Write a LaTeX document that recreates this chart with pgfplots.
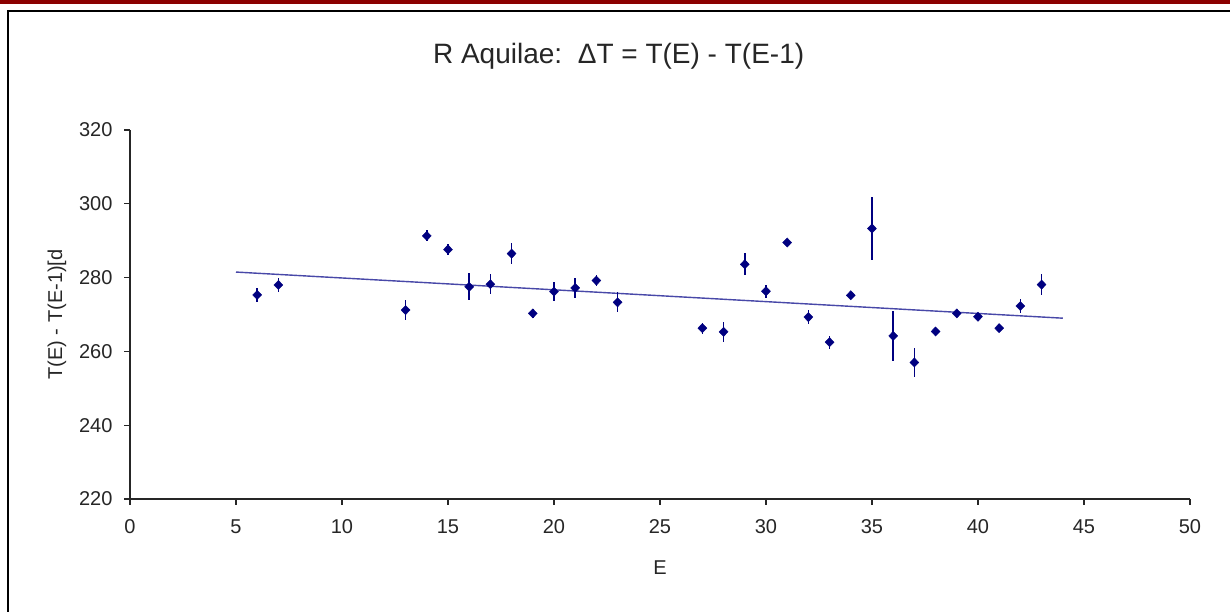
\documentclass[border=0pt]{standalone}
\usepackage{fontspec}
\setmainfont{Liberation Sans}
\usepackage{pgfplots}
\pgfplotsset{compat=1.18}
\definecolor{navy}{HTML}{000080}
\definecolor{trend}{HTML}{4848A8}
\definecolor{topred}{HTML}{8B0000}
\begin{document}
\begin{tikzpicture}[x=1pt,y=1pt]
\path[use as bounding box] (0,0) rectangle (1230,612);
\fill[white] (0,0) rectangle (1230,612);
\fill[topred] (0,608) rectangle (1230,612);
\draw[black,line width=1.6pt] (8,-2) -- (8,601) -- (1232,601);
\begin{axis}[
  at={(130pt,113pt)}, anchor=origin,
  scale only axis, width=1060pt, height=369pt,
  xmin=0, xmax=50, ymin=220, ymax=320,
  xtick={0,5,...,50}, ytick={220,240,...,320},
  axis x line*=bottom, axis y line*=left,
  axis line style={black!85, line width=1.3pt},
  tick style={black!85, line width=1.3pt},
  tick align=outside, major tick length=6pt,
  /pgf/number format/assume math mode=true,
  tick label style={font=\fontsize{20}{24}\selectfont, text=black!85},
  xticklabel style={yshift=-11pt},
  yticklabel style={xshift=-8pt},
  title={R Aquilae:\ \ ΔT = T(E) - T(E-1)},
  title style={at={(axis description cs:0.461,1.183)}, anchor=center, font=\fontsize{28}{33}\selectfont, text=black!85},
  xlabel={E},
  xlabel style={at={(axis description cs:0.5,-0.187)}, anchor=center, font=\fontsize{20}{24}\selectfont, text=black!85},
  ylabel={T(E) - T(E-1)[d},
  ylabel style={at={(axis description cs:-0.069,0.5)}, anchor=center, font=\fontsize{20}{24}\selectfont, text=black!85},
  clip=false,
]
\addplot[trend, line width=1.4pt, no marks] coordinates {(5,281.5) (44,269.0)};
\addplot[only marks, mark=diamond*, mark size=4.6pt, color=navy, mark options={fill=navy, draw=navy, xscale=1.3},
  error bars/.cd, y dir=both, y explicit, error mark=none,
  error bar style={navy, line width=1.5pt}]
  table[x=x, y=y, y error=e] {
x y e
6 275.3 1.8
7 278.0 1.8
13 271.2 2.8
14 291.3 1.5
15 287.6 1.5
16 277.5 3.7
17 278.2 2.7
18 286.5 2.8
19 270.3 1.3
20 276.2 2.5
21 277.2 2.7
22 279.2 1.5
23 273.3 2.7
27 266.3 1.5
28 265.3 2.7
29 283.6 3.0
30 276.3 1.8
31 289.5 0.6
32 269.3 1.8
33 262.5 1.8
34 275.2 0.5
35 293.3 8.5
36 264.2 6.8
37 257.0 4.0
38 265.4 0.5
39 270.3 0.5
40 269.4 1.0
41 266.3 0.5
42 272.3 1.8
43 278.1 2.8
};
\end{axis}
\end{tikzpicture}
\end{document}
